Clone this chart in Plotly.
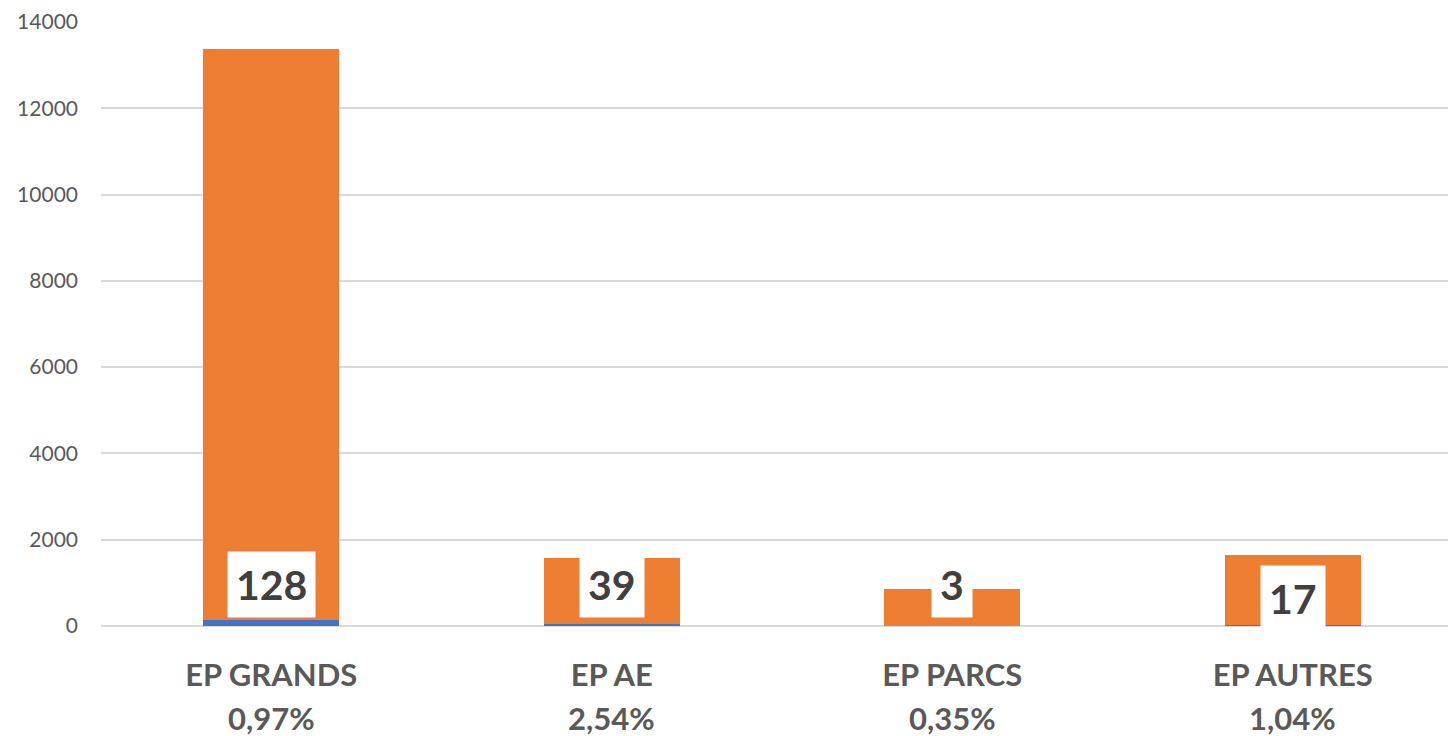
import plotly.graph_objects as go

categories = ["EP GRANDS", "EP AE", "EP PARCS", "EP AUTRES"]
blue_values = [128, 39, 3, 17]
orange_values = [13246, 1537, 855, 1635]
y_ticks = [0, 2000, 4000, 6000, 8000, 10000, 12000, 14000]

BLUE = "#4472C4"
ORANGE = "#ED7D31"
FONT = "Lato"

# share of the blue count relative to the orange total, French decimal comma
percents = [f"{b / o * 100:.2f}%".replace(".", ",") for b, o in zip(blue_values, orange_values)]

fig = go.Figure()
fig.add_trace(go.Bar(x=categories, y=blue_values, marker_color=BLUE, width=0.4,
                     marker_line_width=0, showlegend=False))
fig.add_trace(go.Bar(x=categories, y=orange_values, marker_color=ORANGE, width=0.4,
                     marker_line_width=0, showlegend=False))

# value labels in white boxes near the base of each bar
label_shift = [8, 8, 8, -6]
for cat, val, shift in zip(categories, blue_values, label_shift):
    fig.add_annotation(x=cat, y=0, xref="x", yref="y", text=f"<b>{val}</b>",
                       showarrow=False, yanchor="bottom", yshift=shift,
                       font=dict(family=FONT, size=41, color="#404040"),
                       bgcolor="white", borderpad=8)

# percentage line under each category name
for cat, pct in zip(categories, percents):
    fig.add_annotation(x=cat, y=0, xref="x", yref="y", text=f"<b>{pct}</b>",
                       showarrow=False, yanchor="middle", yshift=-92,
                       font=dict(family=FONT, size=31, color="#595959"))

fig.update_layout(
    barmode="stack",
    width=1448, height=736,
    margin=dict(l=101, r=0, t=22, b=110),
    plot_bgcolor="white", paper_bgcolor="white",
    xaxis=dict(range=[-0.5, 3.456], showgrid=False, showline=False, ticks="",
               tickfont=dict(family=FONT, size=31, color="#595959"),
               tickvals=categories, ticktext=[f"<b>{c}</b>" for c in categories],
               ticklabelstandoff=28),
    yaxis=dict(range=[0, 14000], tickvals=y_ticks, ticktext=[str(t) for t in y_ticks],
               showgrid=True, gridcolor="#D9D9D9",
               gridwidth=1.5, zeroline=True, zerolinecolor="#D9D9D9", zerolinewidth=1.5,
               showline=False, ticks="", ticklabelstandoff=22,
               tickfont=dict(family=FONT, size=21, color="#595959")),
)

fig.write_html("out.html")
